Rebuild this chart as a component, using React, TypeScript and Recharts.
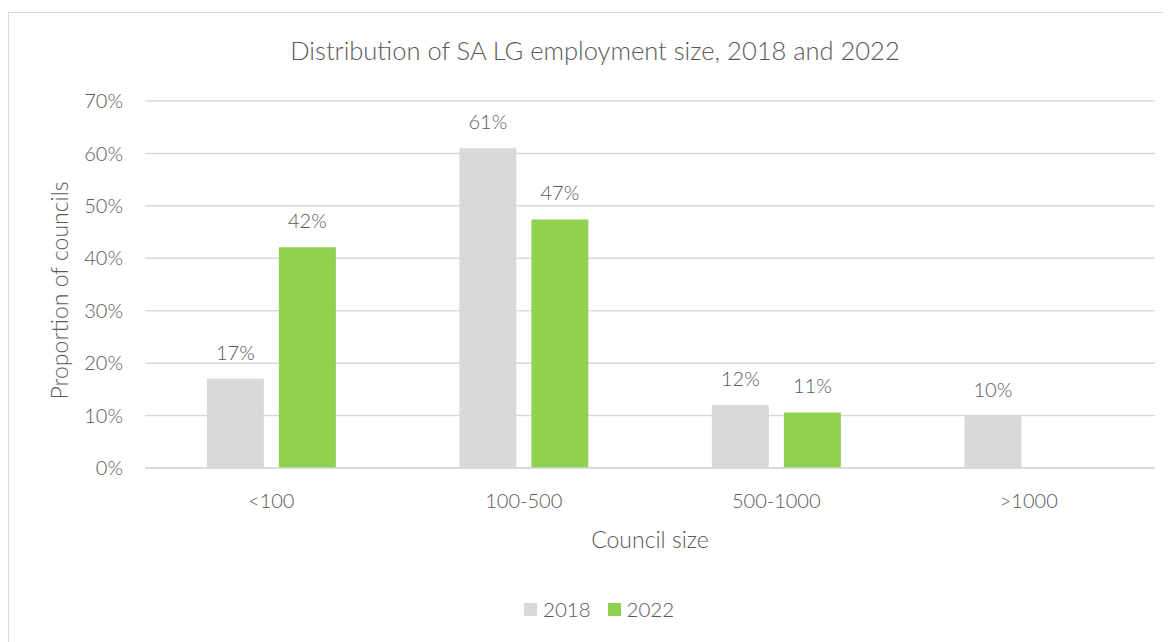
import React from 'react';
import { BarChart, Bar, XAxis, YAxis, CartesianGrid, LabelList } from 'recharts';

const categories = ['<100', '100-500', '500-1000', '>1000'];
const values2018 = [17.0, 61.0, 12.0, 10.0];
const values2022: (number | null)[] = [42.1, 47.4, 10.6, null];
const yTicks = [0, 10, 20, 30, 40, 50, 60, 70];
const seriesNames = ['2018', '2022'];

const data = categories.map((c, i) => ({ cat: c, y2018: values2018[i], y2022: values2022[i] }));

const FONT = 'Lato, "Open Sans", sans-serif';
const TXT = '#595959';
const GREY = '#d9d9d9';
const GREEN = '#92d050';
const COLORS = [GREY, GREEN];

const fmt = (v: any) => (v == null ? '' : `${Math.round(Number(v))}%`);

export default function App() {
  return (
    <div style={{ marginTop: 4, width: 1170, height: 640, border: '1px solid #d9d9d9', boxSizing: 'border-box', position: 'relative', background: '#fff' }}>
      <BarChart
        width={1165}
        height={628}
        data={data}
        margin={{ top: 88, right: 19, left: 70, bottom: 143 }}
        barCategoryGap="24.5%"
        barGap={15}
        style={{ fontFamily: FONT }}
      >
        <text x={586} y={47} textAnchor="middle" fill={TXT} fontSize={25.5} fontFamily={FONT} fontWeight={300}>
          Distribution of SA LG employment size, 2018 and 2022
        </text>
        <CartesianGrid vertical={false} stroke={GREY} strokeWidth={1.5} />
        <XAxis
          dataKey="cat"
          tickLine={false}
          axisLine={{ stroke: GREY, strokeWidth: 1.5 }}
          tickSize={0}
          tickMargin={26}
          height={30}
          tick={{ fill: TXT, fontSize: 20, fontFamily: FONT, fontWeight: 300 }}
          label={{ value: 'Council size', position: 'insideBottom', dy: 55, fill: TXT, fontSize: 23, fontFamily: FONT, fontWeight: 300 }}
        />
        <YAxis
          domain={[0, 70]}
          ticks={yTicks}
          interval={0}
          tickFormatter={(v: number) => `${v}%`}
          tickLine={false}
          axisLine={false}
          tickSize={0}
          tickMargin={22}
          width={66}
          tick={{ fill: TXT, fontSize: 20, fontFamily: FONT, fontWeight: 300 }}
          label={{ value: 'Proportion of councils', angle: -90, position: 'insideLeft', dx: -24, dy: 115, fill: TXT, fontSize: 23, fontFamily: FONT, fontWeight: 300 }}
        />
        <Bar dataKey="y2018" name="2018" fill={GREY} isAnimationActive={false}>
          <LabelList dataKey="y2018" position="top" offset={19} formatter={fmt} fill={TXT} fontSize={20} fontFamily={FONT} fontWeight={300} />
        </Bar>
        <Bar dataKey="y2022" name="2022" fill={GREEN} isAnimationActive={false}>
          <LabelList dataKey="y2022" position="top" offset={19} formatter={fmt} fill={TXT} fontSize={20} fontFamily={FONT} fontWeight={300} />
        </Bar>
      </BarChart>
      <div style={{ position: 'absolute', left: 515, top: 584, height: 24, display: 'flex', alignItems: 'center', fontFamily: FONT, fontWeight: 300, fontSize: 20.5, color: TXT }}>
        {seriesNames.map((n, i) => (
          <div key={n} style={{ display: 'flex', alignItems: 'center', marginRight: 17 }}>
            <span style={{ width: 13, height: 13, background: COLORS[i], display: 'inline-block', marginRight: 6 }} />
            <span>{n}</span>
          </div>
        ))}
      </div>
    </div>
  );
}
